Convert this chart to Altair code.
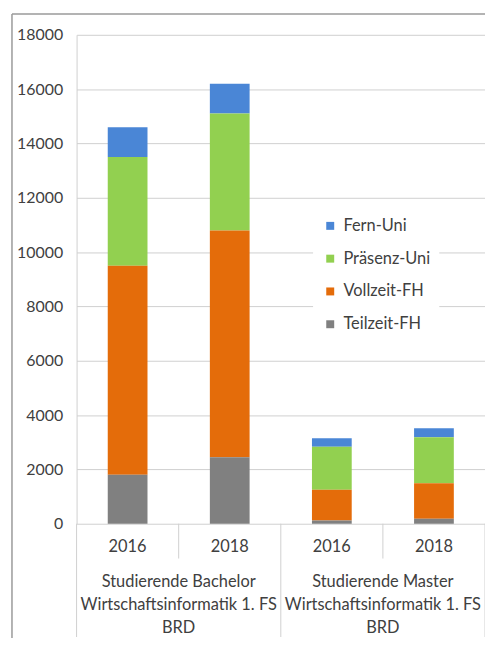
import altair as alt
import pandas as pd

# ---- data ----
groups = ["Studierende Bachelor\nWirtschaftsinformatik 1. FS\nBRD",
          "Studierende Master\nWirtschaftsinformatik 1. FS\nBRD"]
years = ["2016", "2018", "2016", "2018"]
bar_keys = ["B2016", "B2018", "M2016", "M2018"]
series = ["Fern-Uni", "Präsenz-Uni", "Vollzeit-FH", "Teilzeit-FH"]
colors = ["#4A86D6", "#92D050", "#E46C0A", "#808080"]
stack_order = [4, 3, 2, 1]

teilzeit = [1800, 2450, 120, 180]
vollzeit = [7700, 8350, 1130, 1310]
praesenz = [4000, 4300, 1580, 1690]
fern = [1100, 1100, 320, 340]

y_ticks = list(range(0, 18001, 2000))

# ---- tables ----
values = {"Fern-Uni": fern, "Präsenz-Uni": praesenz,
          "Vollzeit-FH": vollzeit, "Teilzeit-FH": teilzeit}
rows = []
for s, o in zip(series, stack_order):
    for k, v in zip(bar_keys, values[s]):
        rows.append({"key": k, "series": s, "value": v, "ord": o})
df = pd.DataFrame(rows)

year_df = pd.DataFrame({"key": bar_keys, "year": years})
group_df = pd.DataFrame({"key": ["B2016", "M2016"], "label": groups})

W, H = 411, 492
FONT = "Lato"
FS = 16.5
TXT = "#404040"
LINE = "#D0D0D0"

xscale = alt.Scale(domain=bar_keys, paddingInner=0, paddingOuter=0)
yscale = alt.Scale(domain=[0, 18000], nice=False)


def X(bp=None):
    if bp is None:
        return alt.X("key:N", scale=xscale, axis=None)
    return alt.X("key:N", scale=xscale, axis=None, bandPosition=bp)


bars = alt.Chart(df).mark_bar(size=40).encode(
    x=X(),
    y=alt.Y("value:Q", stack="zero", scale=yscale,
            axis=alt.Axis(values=y_ticks, title=None, ticks=False, domain=True,
                          format="d",
                          domainColor=LINE, gridColor=LINE, grid=True,
                          labelFontSize=16, labelFont=FONT, labelColor=TXT,
                          labelPadding=14)),
    color=alt.Color("series:N",
                    scale=alt.Scale(domain=series, range=colors),
                    legend=alt.Legend(title=None, orient="none",
                                      legendX=238, legendY=175,
                                      fillColor="white", padding=9,
                                      symbolType="square", symbolSize=64,
                                      labelFontSize=FS, labelFont=FONT,
                                      labelColor=TXT, rowPadding=16,
                                      labelOffset=5)),
    order=alt.Order("ord:Q"),
)

year_text = alt.Chart(year_df).mark_text(
    font=FONT, fontSize=FS, color=TXT, baseline="middle"
).encode(
    x=X(),
    y=alt.value(H + 23),
    text="year:N",
)

group_text = alt.Chart(group_df).mark_text(
    font=FONT, fontSize=FS, color=TXT, baseline="middle",
    lineBreak="\n", lineHeight=23
).encode(
    x=X(1),
    y=alt.value(H + 59),
    text="label:N",
)

# short separators between the years
sep_short = alt.Chart(pd.DataFrame({"key": ["B2016", "M2016"]})).mark_rule(
    color=LINE, strokeWidth=1
).encode(
    x=X(1),
    y=alt.value(H), y2=alt.value(H + 35),
)
# long separators between groups and at the right end
sep_long = alt.Chart(pd.DataFrame({"key": ["B2018", "M2018"]})).mark_rule(
    color=LINE, strokeWidth=1
).encode(
    x=X(1),
    y=alt.value(H), y2=alt.value(H + 114),
)
sep_left = alt.Chart(pd.DataFrame({"key": ["B2016"]})).mark_rule(
    color=LINE, strokeWidth=1
).encode(
    x=X(0),
    y=alt.value(H), y2=alt.value(H + 114),
)

# outer frame of the chart area
frame_left = alt.Chart(pd.DataFrame({"a": [0]})).mark_rule(
    color="#9A9A9A", strokeWidth=1.5
).encode(x=alt.value(-65), y=alt.value(-21), y2=alt.value(H + 130))
frame_top = alt.Chart(pd.DataFrame({"a": [0]})).mark_rule(
    color="#9A9A9A", strokeWidth=1.5
).encode(x=alt.value(-65), x2=alt.value(W + 10), y=alt.value(-21))

chart = alt.layer(
    frame_left, frame_top, sep_short, sep_long, sep_left,
    bars, year_text, group_text
).properties(
    width=W, height=H,
    autosize=alt.AutoSizeParams(type="none"),
    padding={"left": 69, "top": 25, "right": 0, "bottom": 113},
    background="white",
).configure_view(strokeWidth=0)

chart.save("out.html", embed_options={"renderer": "svg", "actions": False})
